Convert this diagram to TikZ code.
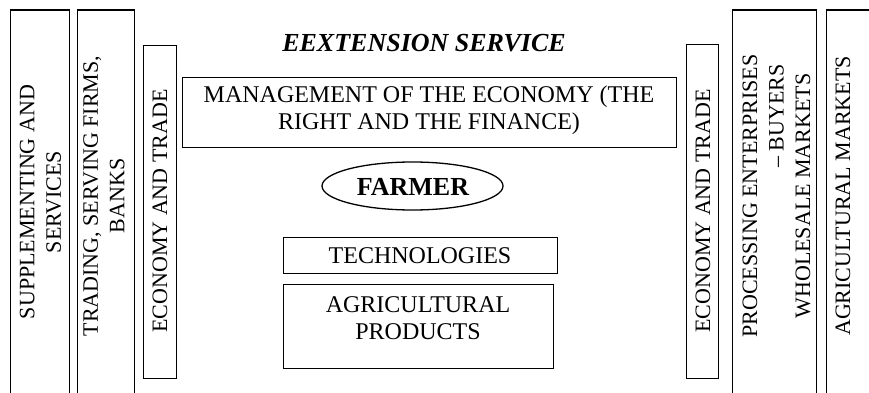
\documentclass[tikz,border=0pt]{standalone}
\usepackage{fontspec}
\setmainfont{Liberation Serif}
\usetikzlibrary{shapes.geometric}
\begin{document}
\begin{tikzpicture}[x=1pt,y=-1pt,
  frame/.style={draw, line width=1.3pt, inner sep=0pt, anchor=north west},
  coltext/.style={rotate=90, align=center, inner sep=0pt, font=\fontsize{22}{26.5}\selectfont},
  midtext/.style={align=center, inner sep=0pt, font=\fontsize{24}{27}\selectfont}]
\useasboundingbox (0,0) rectangle (869,393);
\clip (0,0) rectangle (869,393);
% frames
\node[frame, minimum width=59pt, minimum height=420pt] (c1) at (10,9.5) {};
\node[frame, minimum width=57.5pt, minimum height=420pt] (c2) at (76.5,9.5) {};
\node[frame, minimum width=33pt, minimum height=333pt] (c3) at (143,45) {};
\node[frame, minimum width=494pt, minimum height=70pt] (mg) at (182,77) {};
\node[draw, line width=1.3pt, ellipse, minimum width=181pt, minimum height=48pt, inner sep=0pt] (fa) at (412.5,186) {};
\node[frame, minimum width=274pt, minimum height=36pt] (te) at (283,237) {};
\node[frame, minimum width=270pt, minimum height=84pt] (ap) at (283,284) {};
\node[frame, minimum width=32pt, minimum height=334pt] (c4) at (686,44) {};
\node[frame, minimum width=84pt, minimum height=420pt] (c5) at (732,9.5) {};
\node[frame, minimum width=84pt, minimum height=420pt] (c6) at (826,9.5) {};
% texts
\node[inner sep=0pt, font=\fontsize{26}{30}\selectfont\bfseries\itshape] (ext) at (424,43) {EEXTENSION SERVICE};
\node[midtext] (mgt) at (429,110) {MANAGEMENT OF THE ECONOMY (THE\\RIGHT AND THE FINANCE)};
\node[inner sep=0pt, font=\fontsize{26}{30}\selectfont\bfseries] (fat) at (413,187) {FARMER};
\node[midtext] (tet) at (420,256) {TECHNOLOGIES};
\node[midtext] (apt) at (418,318) {AGRICULTURAL\\PRODUCTS};
\node[coltext] (t1) at (40.5,202) {SUPPLEMENTING AND\\SERVICES};
\node[coltext] (t2) at (104,196) {TRADING, SERVING FIRMS,\\BANKS};
\node[coltext] (t3) at (160,211) {ECONOMY AND TRADE};
\node[coltext] (t4) at (703,211) {ECONOMY AND TRADE};
\node[coltext] (t5) at (776.5,196) {PROCESSING ENTERPRISES\\\hspace*{160pt}– BUYERS\\WHOLESALE MARKETS};
\node[coltext] (t6) at (843,196) {AGRICULTURAL MARKETS};
\end{tikzpicture}
\end{document}
